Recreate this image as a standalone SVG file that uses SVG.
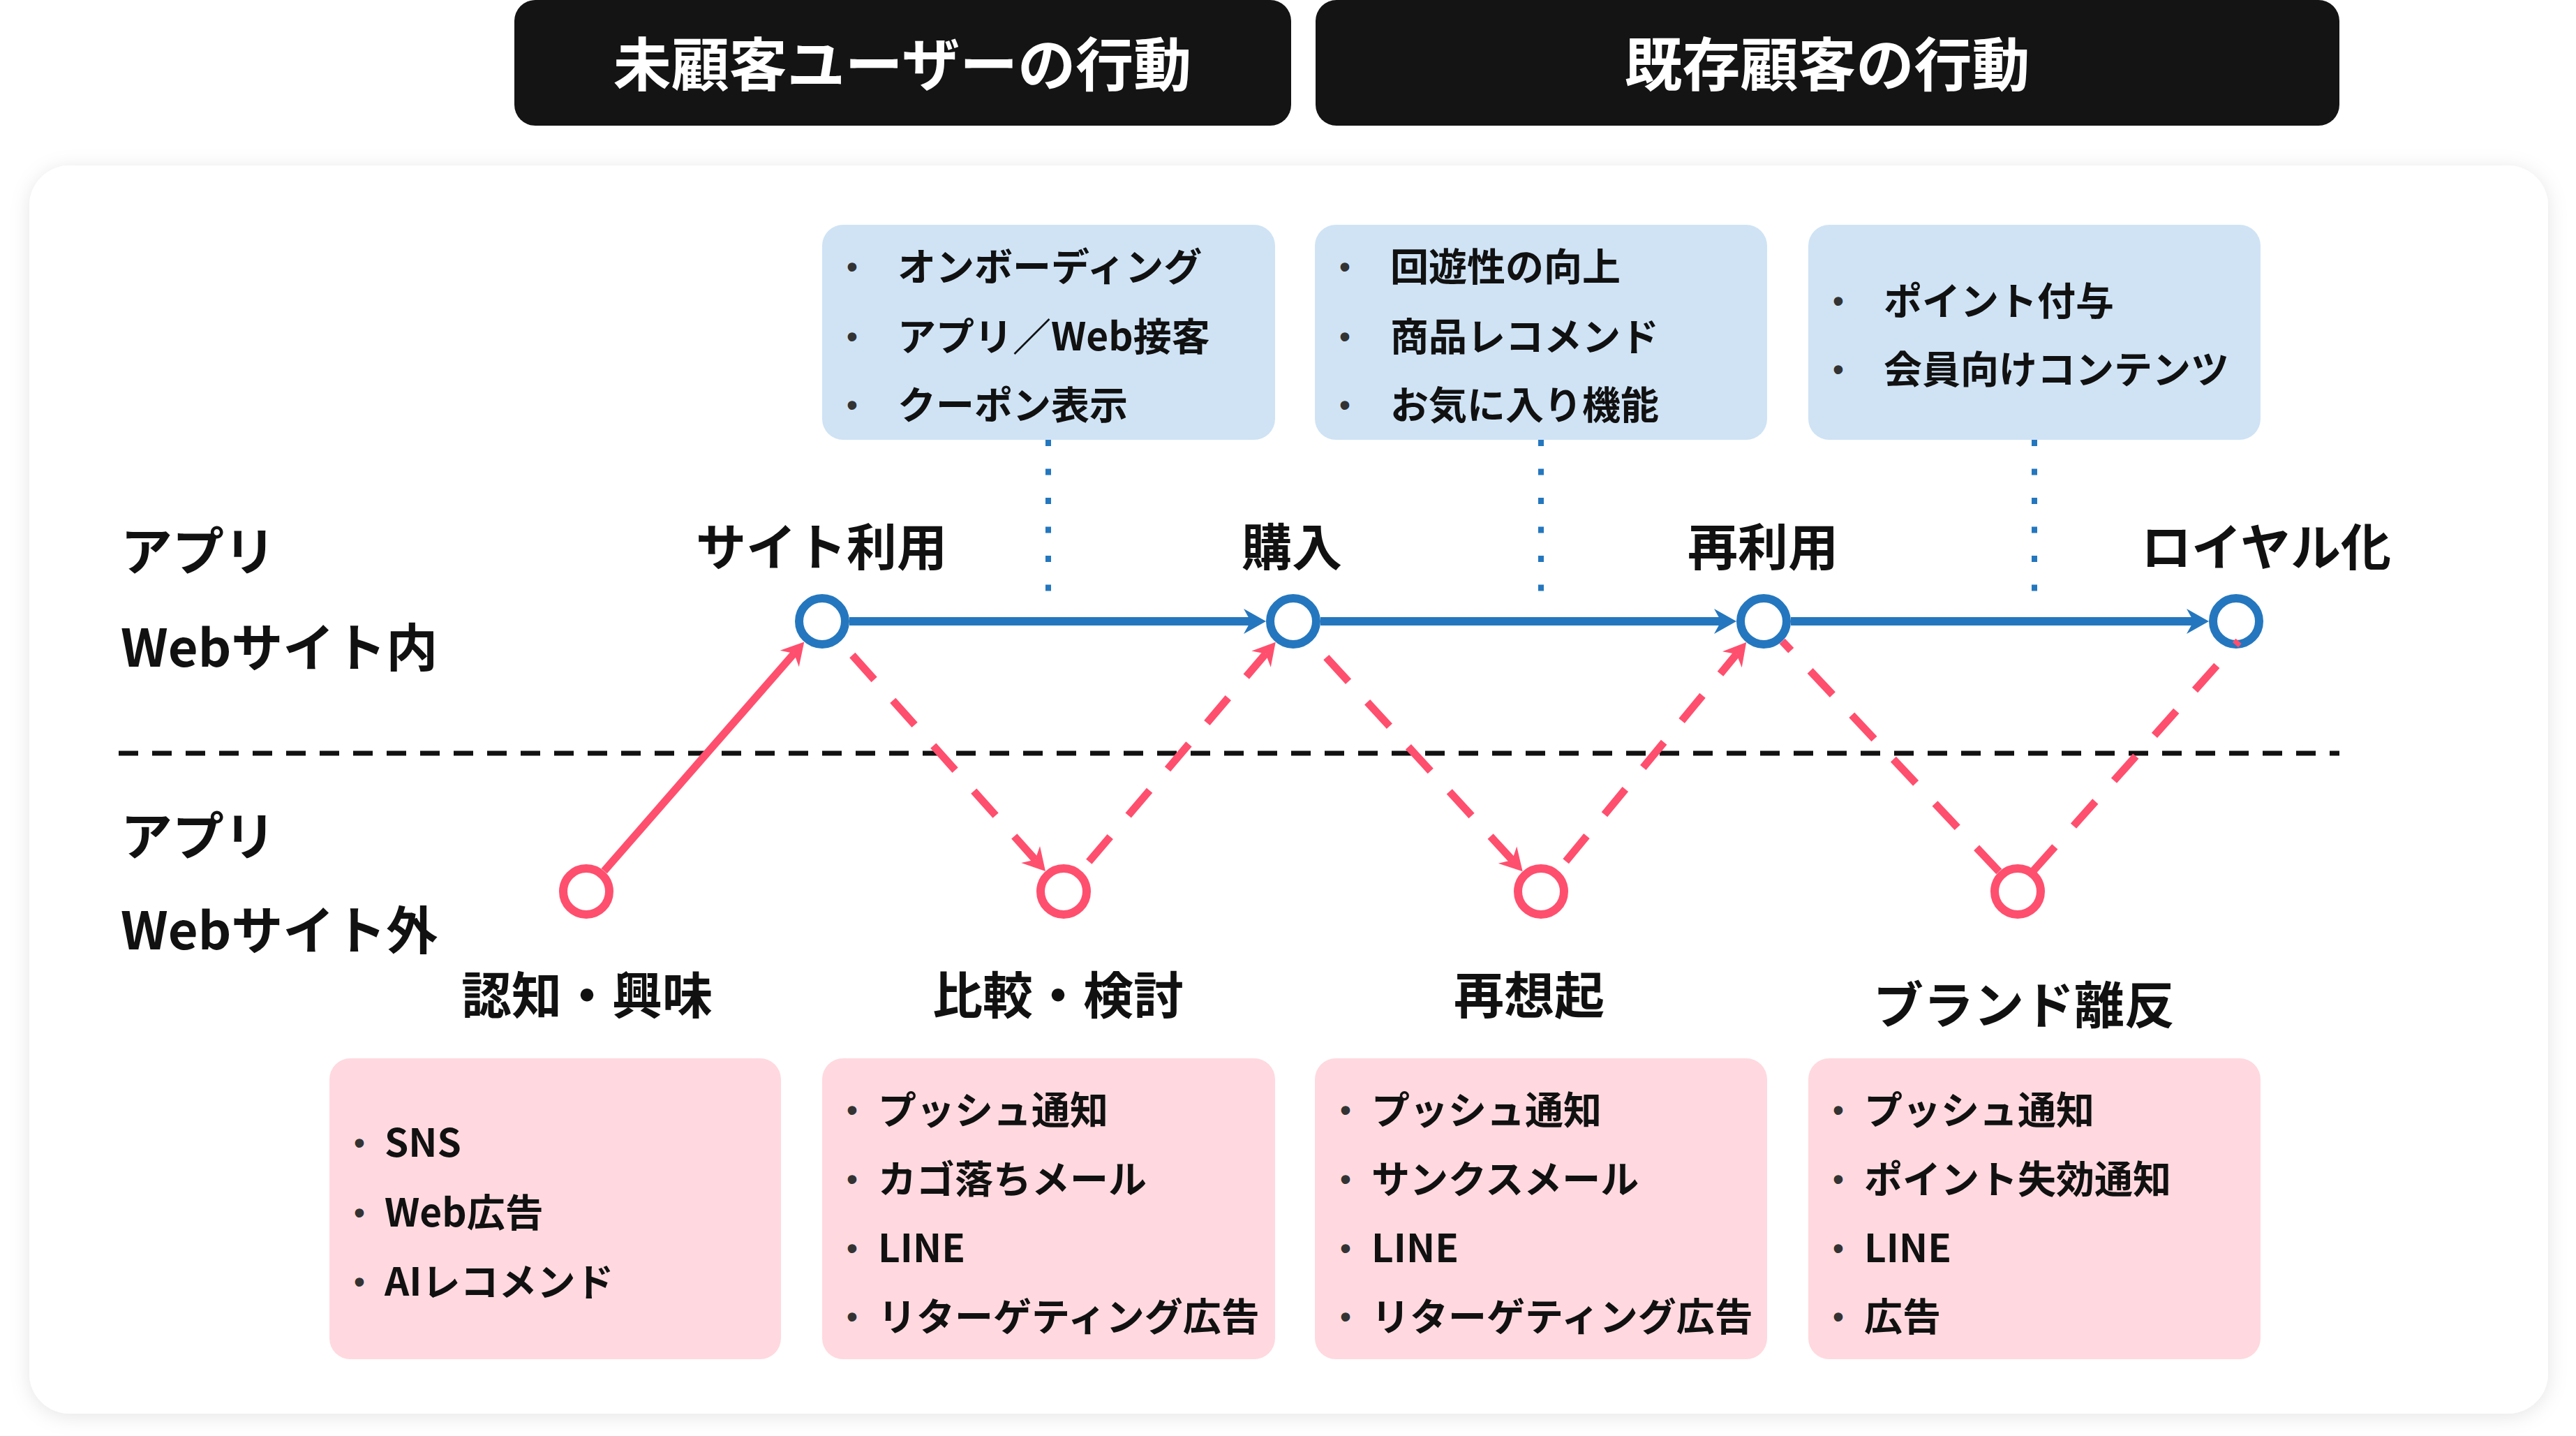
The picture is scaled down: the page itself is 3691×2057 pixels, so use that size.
<svg xmlns="http://www.w3.org/2000/svg" width="3691" height="2057" viewBox="0 0 3691 2057">
<defs>
<filter id="sh" x="-5%" y="-5%" width="110%" height="110%"><feDropShadow dx="0" dy="4" stdDeviation="14" flood-color="#000" flood-opacity="0.10"/></filter>
<marker id="ab" markerUnits="userSpaceOnUse" viewBox="-12 -20 36 40" markerWidth="36" markerHeight="40" refX="0" refY="0" orient="auto"><path d="M22,0 L-10,-18 L0,0 L-10,18 Z" fill="#2477BE"/></marker>
<marker id="ap" markerUnits="userSpaceOnUse" viewBox="-12 -20 36 40" markerWidth="36" markerHeight="40" refX="0" refY="0" orient="auto"><path d="M22,0 L-10,-18 L0,0 L-10,18 Z" fill="#FF4F6E"/></marker>
</defs>
<style>
text{font-family:"Noto Sans CJK JP","Noto Sans",sans-serif;font-weight:700;fill:#111}
.hd{fill:#141414}
.ht{fill:#fff;font-size:83px;text-anchor:middle}
.st{font-size:72px;text-anchor:middle}
.lb{font-size:74px}
.bb{fill:#CFE3F5}
.pb{fill:#FFD9DF}
.it{font-size:55px}
.bu{font-family:"Liberation Sans",sans-serif;font-size:44px;fill:#333;text-anchor:middle}
.cb{fill:#fff;stroke:#2477BE;stroke-width:12}
.cp{fill:#fff;stroke:#FF4F6E;stroke-width:12}
.lbl{stroke:#2477BE;stroke-width:12;fill:none}
.lps{stroke:#FF4F6E;stroke-width:11;fill:none}
.lpd{stroke:#FF4F6E;stroke-width:11;fill:none;stroke-dasharray:47 40}
.dot{stroke:#2477BE;stroke-width:8;fill:none;stroke-dasharray:9 32.5}
</style>
<rect width="3691" height="2057" fill="#fff"/>
<g id="header-new"><rect class="hd" x="737" y="0" width="1113" height="180" rx="30"/><text class="ht" x="1293" y="123">未顧客ユーザーの行動</text></g>
<g id="header-existing"><rect class="hd" x="1885" y="0" width="1467" height="180" rx="30"/><text class="ht" x="2618" y="123">既存顧客の行動</text></g>
<rect id="panel" x="42" y="237" width="3609" height="1788" rx="58" fill="#fff" filter="url(#sh)"/>
<g id="row-labels">
<text class="lb" x="173" y="817">アプリ</text>
<text class="lb" x="173" y="955">Webサイト内</text>
<text class="lb" x="173" y="1225">アプリ</text>
<text class="lb" x="173" y="1360">Webサイト外</text>
</g>
<g id="divider"><path d="M170,1079 H3352" stroke="#111" stroke-width="7" stroke-dasharray="28 20"/></g>
<g id="box-onboarding"><rect class="bb" x="1178" y="322" width="649" height="308" rx="30"/>
<text class="bu" x="1221" y="397">•</text><text class="it" x="1286" y="402">オンボーディング</text>
<text class="bu" x="1221" y="497">•</text><text class="it" x="1286" y="502">アプリ／Web接客</text>
<text class="bu" x="1221" y="595">•</text><text class="it" x="1286" y="600">クーポン表示</text></g>
<g id="box-purchase"><rect class="bb" x="1884" y="322" width="648" height="308" rx="30"/>
<text class="bu" x="1927" y="397">•</text><text class="it" x="1992" y="402">回遊性の向上</text>
<text class="bu" x="1927" y="497">•</text><text class="it" x="1992" y="502">商品レコメンド</text>
<text class="bu" x="1927" y="595">•</text><text class="it" x="1992" y="600">お気に入り機能</text></g>
<g id="box-loyal"><rect class="bb" x="2591" y="322" width="648" height="308" rx="30"/>
<text class="bu" x="2634" y="446">•</text><text class="it" x="2699" y="451">ポイント付与</text>
<text class="bu" x="2634" y="544">•</text><text class="it" x="2699" y="549">会員向けコンテンツ</text></g>
<g id="box-awareness"><rect class="pb" x="472" y="1516" width="647" height="431" rx="30"/>
<text class="bu" x="515" y="1652">•</text><text class="it" x="551" y="1657">SNS</text>
<text class="bu" x="515" y="1752">•</text><text class="it" x="551" y="1757">Web広告</text>
<text class="bu" x="515" y="1851">•</text><text class="it" x="551" y="1856">AIレコメンド</text></g>
<g id="box-compare"><rect class="pb" x="1178" y="1516" width="649" height="431" rx="30"/>
<text class="bu" x="1221" y="1605">•</text><text class="it" x="1258" y="1610">プッシュ通知</text>
<text class="bu" x="1221" y="1704">•</text><text class="it" x="1258" y="1709">カゴ落ちメール</text>
<text class="bu" x="1221" y="1803">•</text><text class="it" x="1258" y="1808">LINE</text>
<text class="bu" x="1221" y="1901">•</text><text class="it" x="1258" y="1906">リターゲティング広告</text></g>
<g id="box-recall"><rect class="pb" x="1884" y="1516" width="648" height="431" rx="30"/>
<text class="bu" x="1928" y="1605">•</text><text class="it" x="1965" y="1610">プッシュ通知</text>
<text class="bu" x="1928" y="1704">•</text><text class="it" x="1965" y="1709">サンクスメール</text>
<text class="bu" x="1928" y="1803">•</text><text class="it" x="1965" y="1808">LINE</text>
<text class="bu" x="1928" y="1901">•</text><text class="it" x="1965" y="1906">リターゲティング広告</text></g>
<g id="box-churn"><rect class="pb" x="2591" y="1516" width="648" height="431" rx="30"/>
<text class="bu" x="2634" y="1605">•</text><text class="it" x="2671" y="1610">プッシュ通知</text>
<text class="bu" x="2634" y="1704">•</text><text class="it" x="2671" y="1709">ポイント失効通知</text>
<text class="bu" x="2634" y="1803">•</text><text class="it" x="2671" y="1808">LINE</text>
<text class="bu" x="2634" y="1901">•</text><text class="it" x="2671" y="1906">広告</text></g>
<g id="node-site"><circle class="cb" cx="1178" cy="890" r="33"/><text class="st" x="1177" y="810">サイト利用</text></g>
<g id="node-buy"><circle class="cb" cx="1853" cy="890" r="33"/><text class="st" x="1851" y="810">購入</text></g>
<g id="node-reuse"><circle class="cb" cx="2527" cy="890" r="33"/><text class="st" x="2526" y="810">再利用</text></g>
<g id="node-loyal"><circle class="cb" cx="3204" cy="890" r="33"/><text class="st" x="3247" y="810">ロイヤル化</text></g>
<g id="node-aware"><circle class="cp" cx="840" cy="1277" r="33"/><text class="st" x="841" y="1452">認知・興味</text></g>
<g id="node-compare"><circle class="cp" cx="1524" cy="1277" r="33"/><text class="st" x="1516" y="1452">比較・検討</text></g>
<g id="node-recall"><circle class="cp" cx="2208" cy="1277" r="33"/><text class="st" x="2191" y="1452">再想起</text></g>
<g id="node-churn"><circle class="cp" cx="2891" cy="1277" r="33"/><text class="st" x="2900" y="1466">ブランド離反</text></g>
<g id="connectors">
<path class="dot" d="M1502,630 V848"/>
<path class="dot" d="M2208,630 V848"/>
<path class="dot" d="M2915,630 V848"/>
<path class="lbl" d="M1217,890 H1792" marker-end="url(#ab)"/>
<path class="lbl" d="M1892,890 H2466" marker-end="url(#ab)"/>
<path class="lbl" d="M2566,890 H3143" marker-end="url(#ab)"/>
<path class="lps" d="M865.7,1247.6 L1137.8,936" marker-end="url(#ap)"/>
<path class="lpd" d="M1221.3,938.5 L1483.3,1231.5" marker-end="url(#ap)"/>
<path class="lpd" d="M1560.3,1234.3 L1813.5,936.5" marker-end="url(#ap)"/>
<path class="lpd" d="M1900.3,941.6 L2166.8,1232" marker-end="url(#ap)"/>
<path class="lpd" d="M2243.6,1233.8 L2488.2,937.1" marker-end="url(#ap)"/>
<path class="lpd" d="M2864.3,1248.6 L2553.7,918.4"/>
<path class="lpd" d="M2913,1247.9 L3207.6,918.4"/>
</g>
</svg>
